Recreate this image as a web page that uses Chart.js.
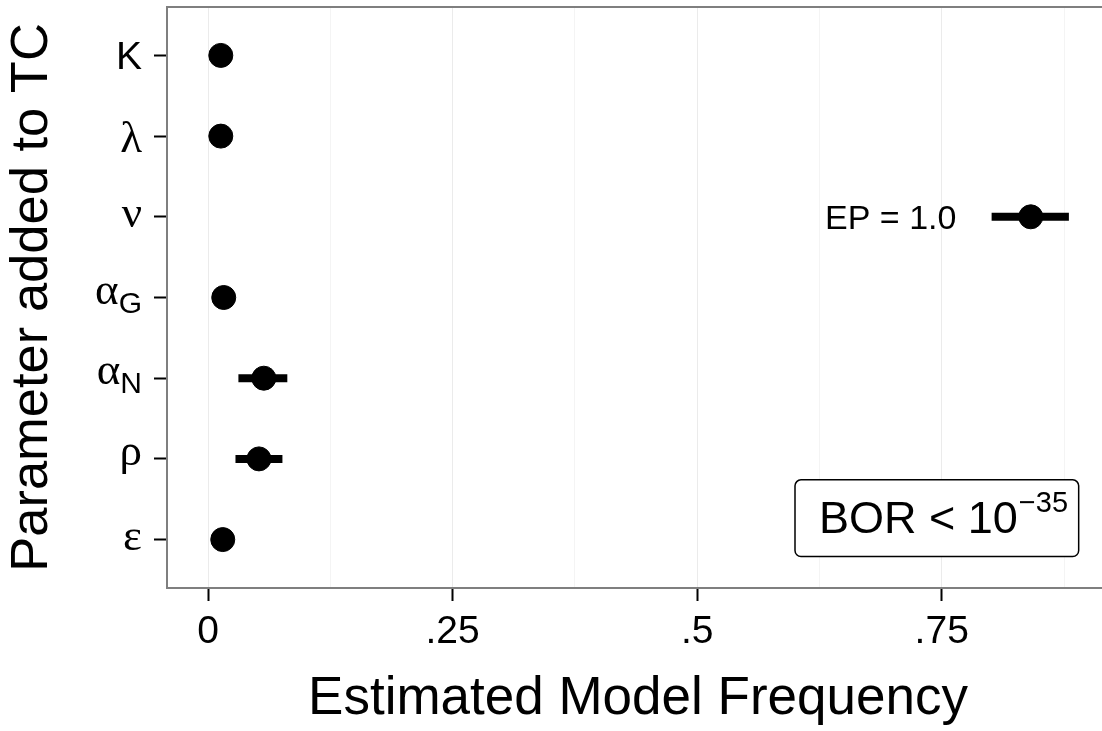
<!DOCTYPE html>
<html>
<head>
<meta charset="utf-8">
<script src="https://cdn.jsdelivr.net/npm/chart.js@4.4.1/dist/chart.umd.min.js"></script>
<style>
  html, body { margin: 0; padding: 0; background: #fff; overflow: hidden; }
  #wrap { width: 1110px; height: 731px; }
</style>
</head>
<body>
<div id="wrap"><canvas id="chart" width="1110" height="731"></canvas></div>
<script>
// parameters (main glyph + subscript), estimated frequencies and error bars
const paramNames = ['K', 'λ', 'ν', 'α', 'α', 'ρ', 'ε'];
const paramSubs = ['', '', '', 'G', 'N', '', ''];
const modelFreq = [0.013, 0.013, 0.841, 0.016, 0.057, 0.052, 0.015];
const freqLow = [null, null, 0.801, null, 0.031, 0.028, null];
const freqHigh = [null, null, 0.880, null, 0.081, 0.076, null];

const xTickValues = [0, 0.125, 0.25, 0.375, 0.5, 0.625, 0.75, 0.875];
const xTickLabels = ['0', '', '.25', '', '.5', '', '.75', ''];
const xMin = -0.042;
const xMax = 0.921;

const SANS = '"Liberation Sans", Arial, sans-serif';
const SERIF = '"Liberation Serif", "Times New Roman", serif';

const pointData = modelFreq.map((v, i) => ({ x: v, y: i }));

const errorSets = [];
freqLow.forEach((lo, i) => {
  if (lo === null) return;
  errorSets.push({
    data: [{ x: lo, y: i }, { x: freqHigh[i], y: i }],
    showLine: true,
    borderColor: '#000',
    borderWidth: 8,
    borderCapStyle: 'butt',
    pointRadius: 0,
    order: 2
  });
});

const yLabels = {
  id: 'yLabels',
  afterDraw(chart) {
    const ctx = chart.ctx;
    const ys = chart.scales.y;
    const right = 142;
    const subDy = 9;
    ctx.save();
    ctx.fillStyle = '#000';
    ctx.textAlign = 'left';
    ctx.textBaseline = 'alphabetic';
    paramNames.forEach((name, i) => {
      const sub = paramSubs[i];
      const mainFont = name === 'K' ? '39px ' + SANS : '45px ' + SERIF;
      const subFont = '30px ' + SANS;
      ctx.font = mainFont;
      const m = ctx.measureText(name);
      let top = -m.actualBoundingBoxAscent;
      let bottom = m.actualBoundingBoxDescent;
      let subW = 0;
      if (sub) {
        ctx.font = subFont;
        const s = ctx.measureText(sub);
        subW = s.width;
        top = Math.min(top, subDy - s.actualBoundingBoxAscent);
        bottom = Math.max(bottom, subDy + s.actualBoundingBoxDescent);
      }
      const y = ys.getPixelForValue(i);
      const base = y - (top + bottom) / 2;
      ctx.font = mainFont;
      ctx.fillText(name, right - subW - m.width, base);
      if (sub) {
        ctx.font = subFont;
        ctx.fillText(sub, right - subW, base + subDy);
      }
    });
    ctx.restore();
  }
};

const annotations = {
  id: 'annotations',
  beforeDatasetsDraw(chart) {
    const { ctx, chartArea } = chart;
    ctx.save();
    ctx.strokeStyle = '#7f7f7f';
    ctx.lineWidth = 2;
    ctx.beginPath();
    ctx.moveTo(chartArea.left - 1, chartArea.top);
    ctx.lineTo(chartArea.right + 2, chartArea.top);
    ctx.stroke();
    ctx.restore();
  },
  afterDraw(chart) {
    const ctx = chart.ctx;
    const xs = chart.scales.x;
    const ys = chart.scales.y;
    ctx.save();
    ctx.fillStyle = '#000';

    // EP label next to the winning model
    ctx.font = '34px ' + SANS;
    ctx.textAlign = 'right';
    ctx.textBaseline = 'alphabetic';
    ctx.fillText('EP = 1.0', xs.getPixelForValue(0.765), ys.getPixelForValue(2) + 12);

    // BOR box
    const bx0 = xs.getPixelForValue(0.600);
    const bx1 = xs.getPixelForValue(0.890);
    const by0 = ys.getPixelForValue(5.26);
    const by1 = ys.getPixelForValue(6.21);
    ctx.beginPath();
    ctx.roundRect(bx0, by0, bx1 - bx0, by1 - by0, 6);
    ctx.fillStyle = '#fff';
    ctx.fill();
    ctx.strokeStyle = '#000';
    ctx.lineWidth = 1.5;
    ctx.stroke();

    ctx.fillStyle = '#000';
    ctx.textAlign = 'left';
    ctx.font = '45px ' + SANS;
    const base = by0 + 53;
    const tx = bx0 + 24;
    ctx.fillText('BOR < 10', tx, base);
    const w = ctx.measureText('BOR < 10').width;
    ctx.font = '29px ' + SANS;
    ctx.fillText('\u221235', tx + w + 1, base - 21);
    ctx.restore();
  }
};

new Chart(document.getElementById('chart'), {
  type: 'scatter',
  data: {
    datasets: [{
      data: pointData,
      pointRadius: 12,
      pointBorderWidth: 1,
      pointBackgroundColor: '#000',
      pointBorderColor: '#000',
      order: 0
    }].concat(errorSets)
  },
  options: {
    responsive: false,
    animation: false,
    events: [],
    layout: { autoPadding: false, padding: { top: 7, right: 1, left: 0, bottom: 0 } },
    plugins: { legend: { display: false }, tooltip: { enabled: false } },
    scales: {
      x: {
        type: 'linear',
        min: xMin,
        max: xMax,
        afterBuildTicks: axis => { axis.ticks = xTickValues.map(v => ({ value: v })); },
        afterFit: scale => { scale.height = 143; },
        ticks: {
          callback: (v, i) => xTickLabels[i],
          autoSkip: false,
          maxRotation: 0,
          padding: 8,
          color: '#000',
          font: { family: SANS, size: 39 }
        },
        grid: {
          color: c => xTickLabels[c.index] ? '#ebebeb' : '#f4f4f4',
          lineWidth: 1,
          tickLength: 13,
          tickWidth: 2,
          tickColor: c => xTickLabels[c.index] ? '#000' : 'rgba(0,0,0,0)'
        },
        border: { color: '#7f7f7f', width: 2 },
        title: {
          display: true,
          text: 'Estimated Model Frequency',
          color: '#000',
          padding: 0,
          font: { family: SANS, size: 53 }
        }
      },
      y: {
        type: 'linear',
        reverse: true,
        min: -0.6,
        max: 6.6,
        afterBuildTicks: axis => { axis.ticks = paramNames.map((_, i) => ({ value: i })); },
        afterFit: scale => { scale.width = 167; },
        ticks: { display: false },
        grid: {
          drawOnChartArea: false,
          tickLength: 13,
          tickWidth: 2,
          tickColor: '#000'
        },
        border: { color: '#7f7f7f', width: 2 },
        title: {
          display: true,
          text: 'Parameter added to TC',
          color: '#000',
          padding: { top: 1, bottom: 0 },
          font: { family: SANS, size: 52.5 }
        }
      }
    }
  },
  plugins: [annotations, yLabels]
});
</script>
</body>
</html>
